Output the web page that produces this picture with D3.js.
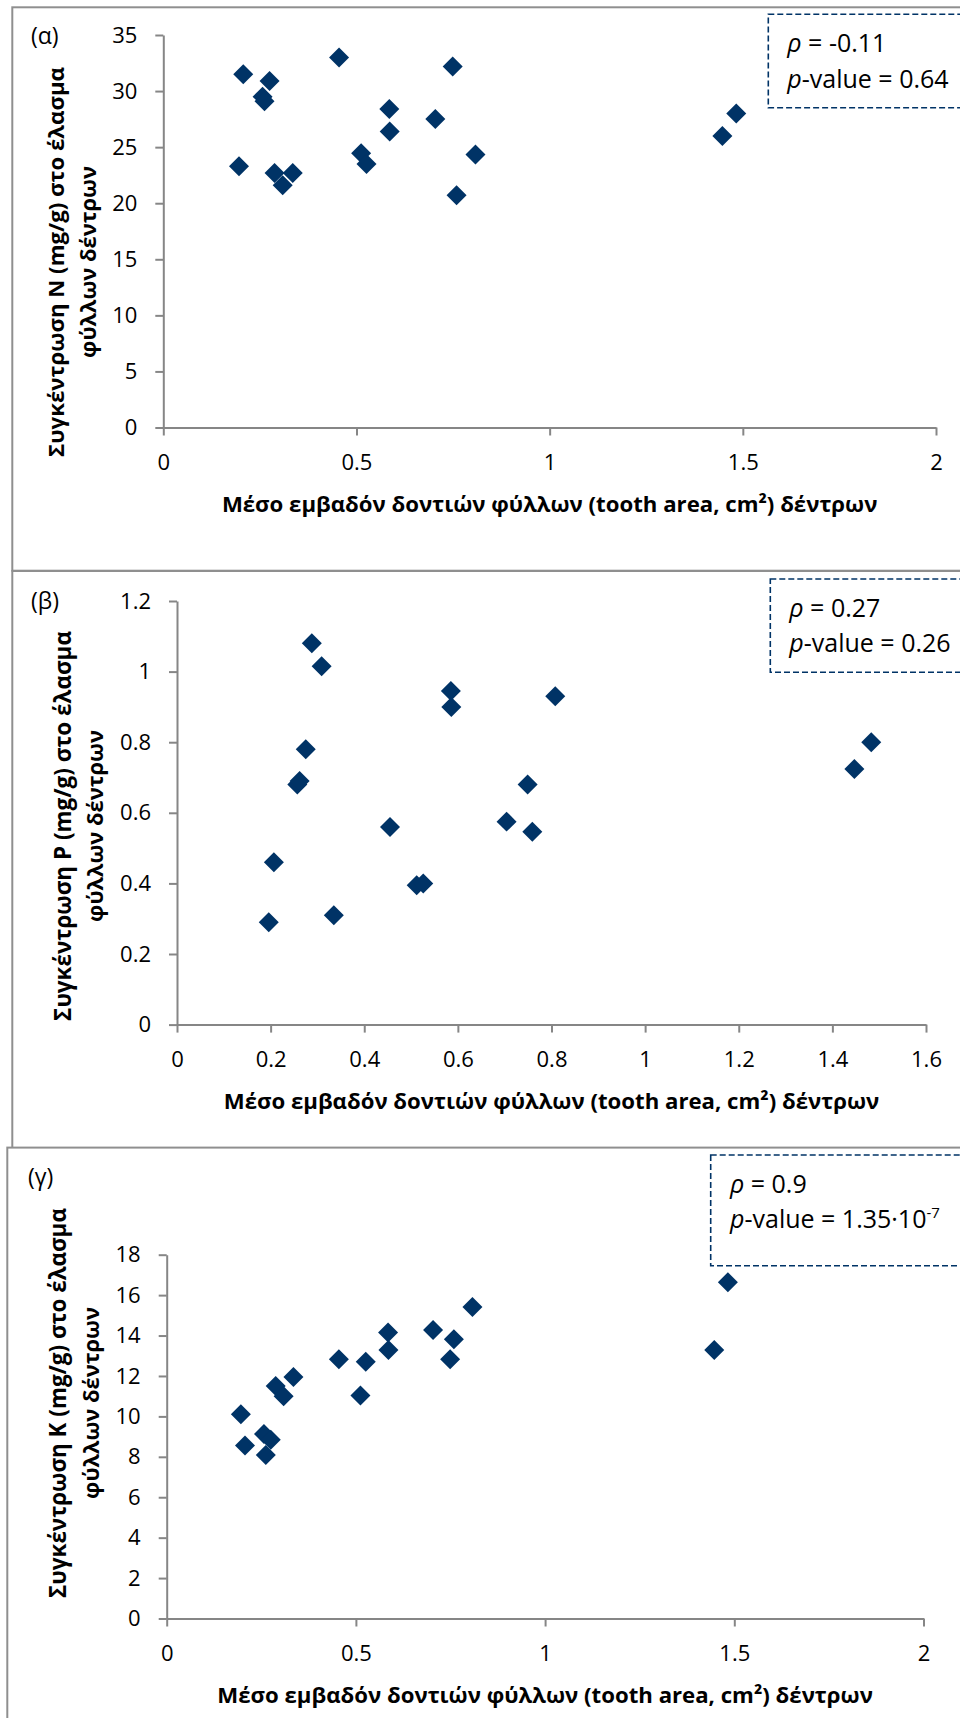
<!DOCTYPE html>
<html>
<head>
<meta charset="utf-8">
<script src="https://cdn.jsdelivr.net/npm/d3@7"></script>
<style>
  html, body { margin: 0; padding: 0; background: #fff; }
  svg { display: block; }
</style>
</head>
<body>
<svg id="chart" width="960" height="1718"></svg>
<script>
// Mean leaf tooth area of the trees (cm²), one entry per tree
const toothArea = [0.196, 0.207, 0.257, 0.262, 0.275, 0.288, 0.309, 0.335, 0.455, 0.512,
                   0.526, 0.585, 0.586, 0.704, 0.749, 0.759, 0.808, 1.447, 1.483];
// Leaf-blade nutrient concentrations (mg/g) for the same trees
const nitrogen   = [23.3, 31.5, 29.5, 29.1, 30.9, 22.7, 21.6, 22.7, 33.0, 24.45,
                    23.5, 28.4, 26.4, 27.5, 32.2, 20.7, 24.35, 26.0, 28.0];
const phosphorus = [0.29, 0.46, 0.68, 0.69, 0.78, 1.08, 1.015, 0.31, 0.56, 0.395,
                    0.40, 0.945, 0.90, 0.575, 0.68, 0.546, 0.93, 0.724, 0.80];
const potassium  = [10.1, 8.56, 9.13, 8.09, 8.84, 11.5, 11.0, 11.95, 12.83, 11.03,
                    12.7, 14.15, 13.28, 14.28, 12.83, 13.82, 15.41, 13.29, 16.64];

// Tick values
const xTicksWide = [0, 0.5, 1, 1.5, 2];
const xTicksP    = [0, 0.2, 0.4, 0.6, 0.8, 1, 1.2, 1.4, 1.6];
const yTicksN    = [0, 5, 10, 15, 20, 25, 30, 35];
const yTicksP    = [0, 0.2, 0.4, 0.6, 0.8, 1, 1.2];
const yTicksK    = [0, 2, 4, 6, 8, 10, 12, 14, 16, 18];

// Texts
const panelLabels = ["(α)", "(β)", "(γ)"];
const xTitle = "Μέσο εμβαδόν δοντιών φύλλων (tooth area, cm²) δέντρων";
const yTitles = [
  ["Συγκέντρωση N (mg/g) στο έλασμα", "φύλλων δέντρων"],
  ["Συγκέντρωση P (mg/g) στο έλασμα", "φύλλων δέντρων"],
  ["Συγκέντρωση K (mg/g) στο έλασμα", "φύλλων δέντρων"]
];
// Spearman statistics
const rhoValues = ["-0.11", "0.27", "0.9"];
const pMantissa = ["0.64", "0.26", "1.35·10"];
const pExponent = [null, null, "-7"];

const FONT = "'Open Sans', 'Noto Sans', sans-serif";
const NAVY = "#003366";
const AXIS_GREY = "#868686";
const FRAME_GREY = "#8f8f8f";

const panels = [
  { values: nitrogen, xDomain: [0, 2], yDomain: [0, 35], xTicks: xTicksWide, yTicks: yTicksN,
    frame: { x: 12.3, y: 7.3, right: 990, bottom: 570.7 },
    plot: { left: 163.3, right: 936, top: 35, bottom: 427.5 },
    label: { x: 31, y: 44 },
    yTitle: { cy: 262, x1: 64, x2: 96 },
    box: { x: 768.3, y: 14.3, bottom: 107.7, tx: 787.3, b1: 52, b2: 88.3 } },
  { values: phosphorus, xDomain: [0, 1.6], yDomain: [0, 1.2], xTicks: xTicksP, yTicks: yTicksP,
    frame: { x: 12.3, y: 571, right: 990, bottom: 1160 },
    plot: { left: 177, right: 926, top: 601, bottom: 1024.6 },
    label: { x: 31, y: 609 },
    yTitle: { cy: 826, x1: 71, x2: 103 },
    box: { x: 770.3, y: 579, bottom: 672.3, tx: 789.3, b1: 616.7, b2: 651.7 } },
  { values: potassium, xDomain: [0, 2], yDomain: [0, 18], xTicks: xTicksWide, yTicks: yTicksK,
    frame: { x: 7.3, y: 1147.6, right: 990, bottom: 1740 },
    plot: { left: 166.7, right: 923.5, top: 1254.7, bottom: 1618.5 },
    label: { x: 28, y: 1185 },
    yTitle: { cy: 1403, x1: 66, x2: 99 },
    box: { x: 710.7, y: 1155, bottom: 1265.7, tx: 730, b1: 1192.7, b2: 1228.3 } }
];

const svg = d3.select("#chart");

// Scale a text's font size so its rendered width hits a target width
function fitWidth(sel, target) {
  const w = sel.node().getComputedTextLength();
  const fs = parseFloat(sel.attr("font-size"));
  if (w > 0) sel.attr("font-size", (fs * target / w).toFixed(2));
  return sel;
}

const diamond = d3.symbol().type(d3.symbolSquare).size(200);

panels.forEach((p, i) => {
  const g = svg.append("g");

  // chart frame
  g.append("rect")
    .attr("x", p.frame.x).attr("y", p.frame.y)
    .attr("width", p.frame.right - p.frame.x)
    .attr("height", p.frame.bottom - p.frame.y)
    .attr("fill", "#fff")
    .attr("stroke", FRAME_GREY).attr("stroke-width", 2);

  const x = d3.scaleLinear().domain(p.xDomain).range([p.plot.left, p.plot.right]);
  const y = d3.scaleLinear().domain(p.yDomain).range([p.plot.bottom, p.plot.top]);

  // y axis
  const yAxis = g.append("g")
    .attr("transform", `translate(${p.plot.left},0)`)
    .call(d3.axisLeft(y).tickValues(p.yTicks).tickFormat(d => String(d))
      .tickSize(8).tickSizeOuter(0).tickPadding(18));
  // x axis
  const xAxis = g.append("g")
    .attr("transform", `translate(0,${p.plot.bottom})`)
    .call(d3.axisBottom(x).tickValues(p.xTicks).tickFormat(d => String(d))
      .tickSize(8).tickSizeOuter(0).tickPadding(19));

  [yAxis, xAxis].forEach(ax => {
    ax.select(".domain").attr("stroke", AXIS_GREY).attr("stroke-width", 2);
    ax.selectAll(".tick line").attr("stroke", AXIS_GREY).attr("stroke-width", 2);
    ax.selectAll(".tick text")
      .attr("font-family", FONT).attr("font-size", 22).attr("fill", "#000");
  });

  // x axis title
  const xt = g.append("text")
    .attr("x", (p.plot.left + p.plot.right) / 2)
    .attr("y", p.plot.bottom + 84)
    .attr("text-anchor", "middle")
    .attr("font-family", FONT).attr("font-weight", "bold")
    .attr("font-size", 23).attr("fill", "#000")
    .text(xTitle);
  fitWidth(xt, 656);

  // y axis title, two rotated lines
  const lineWidths = [390, 192];
  [p.yTitle.x1, p.yTitle.x2].forEach((bx, li) => {
    const t = g.append("text")
      .attr("transform", `translate(${bx},${p.yTitle.cy}) rotate(-90)`)
      .attr("text-anchor", "middle")
      .attr("font-family", FONT).attr("font-weight", "bold")
      .attr("font-size", 23).attr("fill", "#000")
      .text(yTitles[i][li]);
    fitWidth(t, lineWidths[li]);
  });

  // panel letter
  g.append("text")
    .attr("x", p.label.x).attr("y", p.label.y)
    .attr("font-family", FONT).attr("font-size", 23).attr("fill", "#000")
    .text(panelLabels[i]);

  // data points
  g.append("g").selectAll("path")
    .data(toothArea.map((a, k) => [a, p.values[k]]))
    .join("path")
    .attr("d", diamond)
    .attr("transform", d => `translate(${x(d[0])},${y(d[1])}) rotate(45)`)
    .attr("fill", NAVY);

  // statistics box
  g.append("rect")
    .attr("x", p.box.x).attr("y", p.box.y)
    .attr("width", 990 - p.box.x).attr("height", p.box.bottom - p.box.y)
    .attr("fill", "#fff")
    .attr("stroke", NAVY).attr("stroke-width", 1.6)
    .attr("stroke-dasharray", "6,3");

  const t1 = g.append("text")
    .attr("x", p.box.tx).attr("y", p.box.b1)
    .attr("font-family", FONT).attr("font-size", 25).attr("fill", "#000");
  t1.append("tspan").attr("font-style", "italic").text("ρ");
  t1.append("tspan").text(" = " + rhoValues[i]);

  const t2 = g.append("text")
    .attr("x", p.box.tx).attr("y", p.box.b2)
    .attr("font-family", FONT).attr("font-size", 25).attr("fill", "#000");
  t2.append("tspan").attr("font-style", "italic").text("p");
  t2.append("tspan").text("-value = " + pMantissa[i]);
  if (pExponent[i]) {
    t2.append("tspan").attr("font-size", 15).attr("dy", -10).text(pExponent[i]);
  }
});
</script>
</body>
</html>
